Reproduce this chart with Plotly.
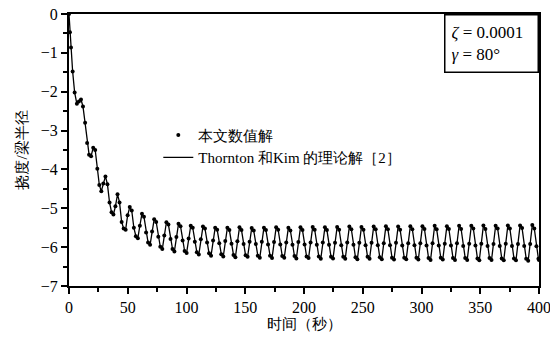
import plotly.graph_objects as go

# ---- data ----
time_s = [
    0.0, 0.8, 1.7, 3.1, 4.8,
    6.7, 8.4, 10.2, 11.9, 13.7, 15.4,
    17.1, 18.8, 20.6, 22.3, 24.1, 25.8,
    27.5, 29.2, 31.0, 32.7, 34.5, 36.2,
    37.8, 39.5, 41.3, 43.0, 44.8, 46.5,
    48.2, 49.9, 51.7, 53.4, 55.2, 56.9,
    58.6, 60.3, 62.1, 63.8, 65.6, 67.3,
    69.0, 70.7, 72.5, 74.2, 76.0, 77.7,
    79.4, 81.1, 82.9, 84.6, 86.4, 88.1,
    89.7, 91.4, 93.2, 94.9, 96.7, 98.4,
    100.1, 101.8, 103.6, 105.3, 107.1, 108.8,
    110.5, 112.2, 114.0, 115.7, 117.5, 119.2,
    120.9, 122.6, 124.4, 126.1, 127.9, 129.6,
    131.3, 133.0, 134.8, 136.5, 138.3, 140.0,
    141.6, 143.3, 145.1, 146.8, 148.6, 150.3,
    152.0, 153.7, 155.5, 157.2, 159.0, 160.7,
    162.4, 164.1, 165.9, 167.6, 169.4, 171.1,
    172.8, 174.5, 176.3, 178.0, 179.8, 181.5,
    183.2, 184.9, 186.7, 188.4, 190.2, 191.9,
    193.5, 195.2, 197.0, 198.7, 200.5, 202.2,
    203.9, 205.6, 207.4, 209.1, 210.9, 212.6,
    214.3, 216.0, 217.8, 219.5, 221.3, 223.0,
    224.7, 226.4, 228.2, 229.9, 231.7, 233.4,
    235.1, 236.8, 238.6, 240.3, 242.1, 243.8,
    245.4, 247.1, 248.9, 250.6, 252.4, 254.1,
    255.8, 257.5, 259.3, 261.0, 262.8, 264.5,
    266.2, 267.9, 269.7, 271.4, 273.2, 274.9,
    276.6, 278.3, 280.1, 281.8, 283.6, 285.3,
    287.0, 288.7, 290.5, 292.2, 294.0, 295.7,
    297.3, 299.0, 300.8, 302.5, 304.3, 306.0,
    307.7, 309.4, 311.2, 312.9, 314.7, 316.4,
    318.1, 319.8, 321.6, 323.3, 325.1, 326.8,
    328.5, 330.2, 332.0, 333.7, 335.5, 337.2,
    338.9, 340.6, 342.4, 344.1, 345.9, 347.6,
    349.2, 350.9, 352.7, 354.4, 356.2, 357.9,
    359.6, 361.3, 363.1, 364.8, 366.6, 368.3,
    370.0, 371.7, 373.5, 375.2, 377.0, 378.7,
    380.4, 382.1, 383.9, 385.6, 387.4, 389.1,
    390.8, 392.5, 394.3, 396.0, 397.8, 399.5,
    400.0,
]

deflection = [
    0.00, -0.47, -0.86, -1.48, -2.02,
    -2.31, -2.25, -2.20, -2.38, -2.80, -3.32,
    -3.62, -3.66, -3.44, -3.50, -3.98, -4.40,
    -4.56, -4.36, -4.18, -4.38, -4.85, -5.10,
    -5.16, -4.95, -4.64, -4.85, -5.35, -5.52,
    -5.55, -5.18, -4.97, -5.06, -5.50, -5.72,
    -5.77, -5.45, -5.14, -5.22, -5.62, -5.88,
    -5.94, -5.60, -5.28, -5.35, -5.73, -5.99,
    -6.05, -5.70, -5.36, -5.42, -5.79, -6.05,
    -6.11, -5.74, -5.40, -5.46, -5.83, -6.10,
    -6.15, -5.78, -5.45, -5.50, -5.86, -6.13,
    -6.19, -5.80, -5.47, -5.52, -5.88, -6.16,
    -6.22, -5.83, -5.50, -5.55, -5.90, -6.18,
    -6.24, -5.84, -5.50, -5.56, -5.91, -6.20,
    -6.26, -5.85, -5.49, -5.56, -5.92, -6.21,
    -6.25, -5.86, -5.51, -5.57, -5.92, -6.22,
    -6.27, -5.86, -5.50, -5.56, -5.93, -6.22,
    -6.28, -5.87, -5.49, -5.55, -5.93, -6.23,
    -6.27, -5.88, -5.50, -5.57, -5.94, -6.23,
    -6.29, -5.87, -5.49, -5.56, -5.93, -6.24,
    -6.28, -5.88, -5.48, -5.55, -5.94, -6.24,
    -6.30, -5.88, -5.49, -5.56, -5.94, -6.25,
    -6.29, -5.89, -5.48, -5.55, -5.95, -6.25,
    -6.30, -5.88, -5.47, -5.54, -5.94, -6.26,
    -6.31, -5.89, -5.48, -5.55, -5.95, -6.25,
    -6.30, -5.89, -5.47, -5.54, -5.95, -6.26,
    -6.31, -5.90, -5.46, -5.54, -5.95, -6.27,
    -6.32, -5.89, -5.47, -5.55, -5.96, -6.27,
    -6.31, -5.90, -5.46, -5.54, -5.95, -6.27,
    -6.32, -5.90, -5.46, -5.53, -5.96, -6.28,
    -6.33, -5.90, -5.45, -5.54, -5.96, -6.27,
    -6.32, -5.91, -5.46, -5.53, -5.96, -6.28,
    -6.33, -5.90, -5.45, -5.53, -5.97, -6.28,
    -6.33, -5.91, -5.45, -5.52, -5.96, -6.29,
    -6.34, -5.91, -5.44, -5.53, -5.97, -6.28,
    -6.33, -5.92, -5.45, -5.52, -5.97, -6.29,
    -6.34, -5.91, -5.44, -5.52, -5.97, -6.29,
    -6.34, -5.92, -5.44, -5.51, -5.97, -6.30,
    -6.35, -5.92, -5.43, -5.52, -5.98, -6.30,
    -6.33,
]

x_ticks = [0, 50, 100, 150, 200, 250, 300, 350, 400]
y_ticks = [0, -1, -2, -3, -4, -5, -6, -7]

legend_numeric = "本文数值解"
legend_theory = "Thornton 和Kim 的理论解［2］"
x_title = "时间（秒）"
y_title = "挠度/梁半径"
param_text = "<i>ζ</i> = 0.0001<br><i>γ</i> = 80°"

FONT = "Liberation Serif"

fig = go.Figure()
fig.add_trace(go.Scatter(
    x=time_s, y=deflection, mode="markers", name=legend_numeric,
    marker=dict(color="black", size=4),
))
fig.add_trace(go.Scatter(
    x=time_s, y=deflection, mode="lines", name=legend_theory,
    line=dict(color="black", width=1.3),
))

axis_common = dict(
    showgrid=False, zeroline=False, showline=True, linecolor="black",
    linewidth=2, mirror=True, ticks="outside", ticklen=6, tickwidth=1.5,
    tickcolor="black", tickfont=dict(family=FONT, size=16, color="black"),
    automargin=False, ticklabeloverflow="allow",
)

fig.update_xaxes(
    range=[0, 400], tickvals=x_ticks,
    minor=dict(dtick=25, ticks="outside", ticklen=4, tickcolor="black", tickwidth=1.5),
    title=dict(text=x_title, font=dict(family=FONT, size=15, color="black"), standoff=2),
    **axis_common,
)
fig.update_yaxes(
    range=[-7, 0], tickvals=y_ticks,
    minor=dict(dtick=0.5, ticks="outside", ticklen=4, tickcolor="black", tickwidth=1.5),
    title=dict(text=y_title, font=dict(family=FONT, size=15, color="black"), standoff=10),
    **axis_common,
)

fig.add_annotation(
    xref="paper", yref="paper", x=1, y=1, xanchor="right", yanchor="top",
    text=param_text, showarrow=False, align="left",
    font=dict(family=FONT, size=17, color="black"),
    bordercolor="black", borderwidth=1.5, borderpad=6,
    bgcolor="white", width=80, height=44,
)

fig.update_layout(
    width=550, height=340,
    margin=dict(l=69, r=11, t=14, b=54),
    paper_bgcolor="white", plot_bgcolor="white",
    font=dict(family=FONT, size=15, color="black"),
    showlegend=True,
    legend=dict(
        x=0.19, y=0.615, xanchor="left", yanchor="top",
        bgcolor="rgba(0,0,0,0)", borderwidth=0,
        font=dict(family=FONT, size=15, color="black"),
        itemwidth=30, tracegroupgap=0,
    ),
)

fig.write_html(
    "out.html",
    config={"displayModeBar": False, "responsive": False},
    post_script=(
        "document.documentElement.style.overflow='hidden';"
        "document.body.style.margin='0';"
        "document.body.style.padding='0';"
        "document.body.style.overflow='hidden';"
    ),
)
